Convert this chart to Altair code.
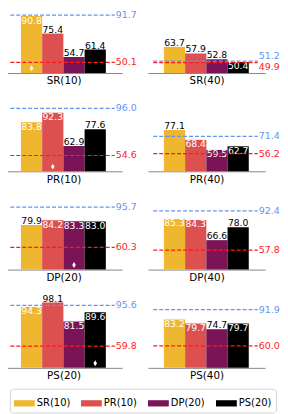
import altair as alt
import pandas as pd

methods = ["SR(10)", "PR(10)", "DP(20)", "PS(20)"]
colors = ["#EFB630", "#DC5050", "#7B1456", "#000000"]

panel_names = ["SR(10)", "SR(40)", "PR(10)", "PR(40)", "DP(20)", "DP(40)", "PS(20)", "PS(40)"]
bar_values = [
    [90.8, 75.4, 54.7, 61.4],
    [63.7, 57.9, 52.8, 50.4],
    [83.8, 92.3, 62.9, 77.6],
    [77.1, 68.4, 59.5, 62.7],
    [79.9, 84.2, 83.3, 83.0],
    [85.3, 84.3, 66.6, 78.0],
    [94.3, 98.1, 81.5, 89.6],
    [83.2, 79.7, 74.7, 79.7],
]
upper_ref = [91.7, 51.2, 96.0, 71.4, 95.7, 92.4, 95.6, 91.9]
lower_ref = [50.1, 49.9, 54.6, 56.2, 60.3, 57.8, 59.8, 60.0]

Y_MIN, Y_MAX = 40.7, 100.1
W, H = 118, 68
BLUE = "#6495ED"
RED = "#FF1A1A"
FONT = "DejaVu Sans"
DIAMOND = "M0,-1L0.6,0L0,1L-0.6,0Z"
LEGEND_SYMBOL = "M-1,-0.3L1,-0.3L1,0.3L-1,0.3Z"

xscale = alt.Scale(domain=[-0.75, 4.77], nice=False, zero=False)
yscale = alt.Scale(domain=[Y_MIN, Y_MAX], nice=False, zero=False)
cscale = alt.Scale(domain=methods, range=colors)

legend = alt.Legend(
    orient="none", legendX=5, legendY=386, direction="horizontal", columns=4,
    symbolType=LEGEND_SYMBOL, symbolSize=441, symbolStrokeWidth=0, title=None,
    labelFontSize=10, labelFont=FONT, labelColor="black", strokeColor="#d4d4d4",
    fillColor="white", padding=4, cornerRadius=3, columnPadding=10.5, labelOffset=2,
)


def panel(name, vals, up, lo):
    refs = [up, lo]
    df = pd.DataFrame({
        "method": methods,
        "value": vals,
        "x0": [i for i in range(4)],
        "x1": [i + 1 for i in range(4)],
        "xc": [i + 0.5 for i in range(4)],
    })
    df["base"] = Y_MIN
    df["label"] = [f"{v:.1f}" for v in vals]
    df["inside"] = [any(v <= r <= v + 14.25 for r in refs) for v in vals]
    df["diamond"] = [m == name for m in methods]
    df["dy"] = Y_MIN + 4.1

    close = abs(up - lo) < 5
    ref_df = pd.DataFrame({
        "kind": ["upper", "lower"],
        "value": [up, lo],
        "label": [f"{up:.1f}", f"{lo:.1f}"],
        "ly": [up + (4.3 if close else 0), lo - (4.0 if close else 0)],
        "x_start": [-0.5, -0.5],
        "x_end": [4.42, 4.42],
        "x_lab": [4.47, 4.47],
    })

    base = alt.Chart(df)
    bars = base.mark_rect().encode(
        x=alt.X("x0:Q", scale=xscale,
                axis=alt.Axis(title=name, labels=False, ticks=False, grid=False,
                              domainColor="#888888", domainWidth=1,
                              titleFontSize=10.4, titleFontWeight="normal",
                              titleFont=FONT, titleColor="black", titlePadding=3)),
        x2="x1:Q",
        y=alt.Y("value:Q", scale=yscale, axis=None),
        y2="base:Q",
        color=alt.Color("method:N", scale=cscale, legend=legend),
    )
    above = base.transform_filter("!datum.inside").mark_text(
        baseline="alphabetic", dy=-1, fontSize=9.3, font=FONT, color="black"
    ).encode(x=alt.X("xc:Q", scale=xscale), y=alt.Y("value:Q", scale=yscale), text="label:N")
    inside = base.transform_filter("datum.inside").mark_text(
        baseline="top", dy=0.5, fontSize=9.3, font=FONT, color="white"
    ).encode(x=alt.X("xc:Q", scale=xscale), y=alt.Y("value:Q", scale=yscale), text="label:N")
    diamonds = base.transform_filter("datum.diamond").mark_point(
        shape=DIAMOND, filled=True, color="white", opacity=1, size=36, strokeWidth=0
    ).encode(x=alt.X("xc:Q", scale=xscale), y=alt.Y("dy:Q", scale=yscale))

    rb = alt.Chart(ref_df)
    layers = [bars, above, inside, diamonds]
    for kind, col in [("upper", BLUE), ("lower", RED)]:
        sub = rb.transform_filter(f"datum.kind == '{kind}'")
        layers.append(sub.mark_rule(color=col, strokeWidth=1.2, strokeDash=[4, 2]).encode(
            x=alt.X("x_start:Q", scale=xscale),
            x2="x_end:Q",
            y=alt.Y("value:Q", scale=yscale),
        ))
        layers.append(sub.mark_text(align="left", baseline="middle", fontSize=9.5,
                                    font=FONT, color=col).encode(
            x=alt.X("x_lab:Q", scale=xscale),
            y=alt.Y("ly:Q", scale=yscale),
            text="label:N",
        ))
    return alt.layer(*layers).properties(width=W, height=H)


charts = [panel(panel_names[k], bar_values[k], upper_ref[k], lower_ref[k]) for k in range(8)]

chart = alt.concat(*charts, columns=2, spacing={"row": 31, "column": 26},
                   bounds="flush").properties(
    padding={"top": -4, "left": -3, "right": 0, "bottom": 0})
chart = chart.configure(font=FONT).configure_view(strokeWidth=0, stroke="transparent")

chart.save("out.html", embed_options={"renderer": "svg", "actions": False})
